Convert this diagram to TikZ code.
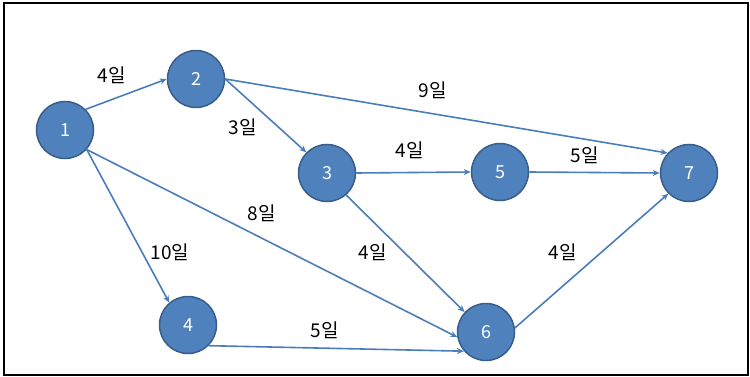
\documentclass[tikz,border=0pt]{standalone}
\usepackage{fontspec}
\newfontfamily\kor{Noto Sans CJK KR}
\usepackage{tikz}
\usetikzlibrary{arrows.meta}

\definecolor{nodeblue}{RGB}{79,129,189}
\definecolor{nodeedge}{RGB}{56,93,138}
\definecolor{lineblue}{RGB}{74,126,187}

\tikzset{
  task/.style={circle, fill=nodeblue, draw=nodeedge, line width=1.5pt, minimum size=57pt, inner sep=0pt, text=white, font=\kor\fontsize{18}{18}\selectfont},
  days/.style={inner sep=0.75pt, font=\kor\fontsize{19}{19}\selectfont},
  link/.style={draw=lineblue, line width=1.6pt, -{Stealth[length=7pt,width=6pt]}}
}

\begin{document}
\begin{tikzpicture}[x=1pt,y=1pt,yscale=-1,xscale=1]
        \useasboundingbox (0,0) rectangle (750,377);
        \draw [line width=1.4pt] (4,3) rectangle (748,375);

        % events
        \node [task] (n1) at (65,130) {1};
        \node [task] (n2) at (196,79) {2};
        \node [task] (n3) at (327,173) {3};
        \node [task] (n4) at (188,325) {4};
        \node [task] (n5) at (500,172) {5};
        \node [task] (n6) at (486,332) {6};
        \node [task] (n7) at (689,173) {7};

        % activities
        \draw [link] (n1.45) -- (n2.180);
        \draw [link] (n2.0) -- (n3.135);
        \draw [link] (n2.0) -- (n7.137);
        \draw [link] (n1.-42) -- (n4.130);
        \draw [link] (n1.-42) -- (n6.190);
        \draw [link] (n3.0) -- (n5.180);
        \draw [link] (n3.-49) -- (n6.137);
        \draw [link] (n5.0) -- (n7.180);
        \draw [link] (n4.-45) -- (n6.221);
        \draw [link] (n6.8) -- (n7.225);

        % durations
        \node [days] (d12) at (112,75) {4일};
        \node [days] (d23) at (243,127) {3일};
        \node [days] (d27) at (433,90) {9일};
        \node [days] (d35) at (410,150) {4일};
        \node [days] (d57) at (585,155) {5일};
        \node [days] (d16) at (262,213) {8일};
        \node [days] (d14) at (170,252) {10일};
        \node [days] (d36) at (373,252) {4일};
        \node [days] (d67) at (563,252) {4일};
        \node [days] (d46) at (325,330) {5일};
\end{tikzpicture}
\end{document}
